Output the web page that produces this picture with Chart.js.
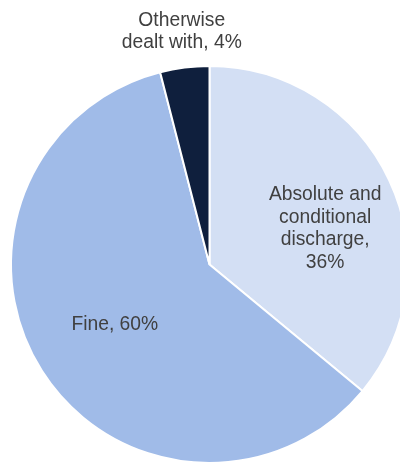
<!DOCTYPE html>
<html>
<head>
<meta charset="utf-8">
<script src="https://cdn.jsdelivr.net/npm/chart.js@4"></script>
<style>
  html, body { margin: 0; padding: 0; background: #ffffff; overflow: hidden; width: 400px; height: 462px; }
  #wrap { position: absolute; left: 0; top: 0; width: 420px; height: 530px; }
</style>
</head>
<body>
<div id="wrap"><canvas id="pieChart"></canvas></div>
<script>
// Slices, clockwise from 12 o'clock
const categories = ['Absolute and conditional discharge', 'Fine', 'Otherwise dealt with'];
const shares = [36, 60, 4];
const labelLines = [
  ['Absolute and', 'conditional', 'discharge,', '36%'],
  ['Fine, 60%'],
  ['Otherwise', 'dealt with, 4%']
];
const sliceColors = ['#d3dff4', '#a0bbe8', '#0f1f3d'];

// label placement: angle shift from slice middle (deg) and distance as fraction of radius
const labelPlace = [
  { shift: 8, dist: 0.61 },
  { shift: 0, dist: 0.565 },
  { shift: 0.4, dist: 1.18 }
];

const sliceLabels = {
  id: 'sliceLabels',
  afterDatasetsDraw(chart) {
    const ctx = chart.ctx;
    const arcs = chart.getDatasetMeta(0).data;
    ctx.save();
    ctx.font = '19.3px "Liberation Sans", Arial, sans-serif';
    ctx.fillStyle = '#404040';
    ctx.textAlign = 'center';
    ctx.textBaseline = 'middle';
    arcs.forEach((arc, i) => {
      const p = arc.getProps(['x', 'y', 'startAngle', 'endAngle', 'outerRadius'], true);
      const mid = (p.startAngle + p.endAngle) / 2 + labelPlace[i].shift * Math.PI / 180;
      const r = p.outerRadius * labelPlace[i].dist;
      const cx = p.x + Math.cos(mid) * r;
      const cy = p.y + Math.sin(mid) * r;
      const lines = labelLines[i];
      const lh = 22.5;
      lines.forEach((t, k) => {
        ctx.fillText(t, cx, cy + (k - (lines.length - 1) / 2) * lh);
      });
    });
    ctx.restore();
  }
};

const ctx = document.getElementById('pieChart').getContext('2d');
new Chart(ctx, {
  type: 'pie',
  data: {
    labels: categories,
    datasets: [{
      data: shares,
      backgroundColor: sliceColors,
      borderColor: '#ffffff',
      borderWidth: 2
    }]
  },
  options: {
    responsive: true,
    maintainAspectRatio: false,
    animation: false,
    layout: { padding: { left: 10, top: 65, right: 11, bottom: 66 } },
    plugins: {
      legend: { display: false },
      tooltip: { enabled: false }
    }
  },
  plugins: [sliceLabels]
});
</script>
</body>
</html>
